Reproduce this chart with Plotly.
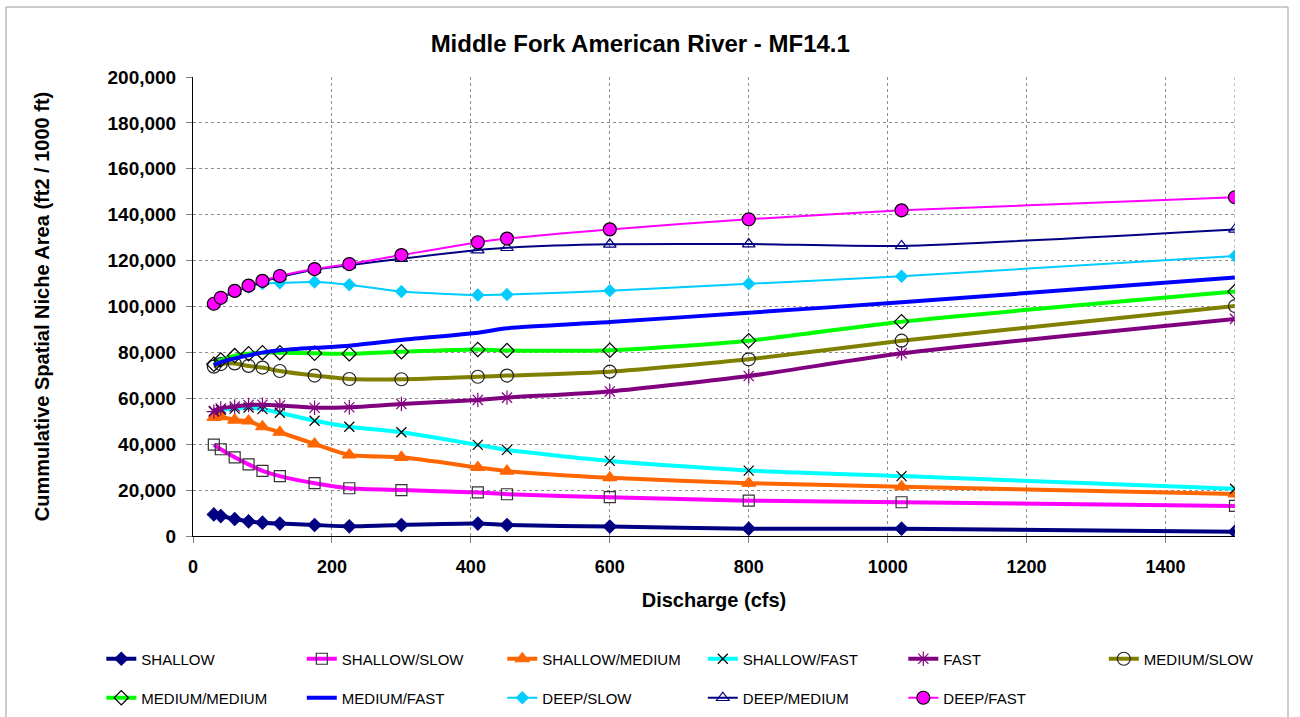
import plotly.graph_objects as go

# discharge (cfs)
discharge = [30, 40, 60, 80, 100, 125, 175, 225, 300, 410, 452, 600, 800, 1020, 1500]

# cumulative spatial niche area (ft2 / 1000 ft)
shallow = [9400, 8700, 7400, 6400, 5800, 5400, 4800, 4200, 4800, 5400, 4800, 4100, 3200, 3200, 1900]
shallow_slow = [39800, 37800, 34300, 31200, 28400, 26100, 23000, 20800, 20000, 19000, 18200, 16900, 15400, 14700, 13100]
shallow_medium = [51700, 52000, 50500, 50100, 47600, 45200, 40100, 35300, 34300, 29900, 28300, 25400, 23000, 21500, 18300]
shallow_fast = [54500, 55000, 55500, 56000, 55300, 53700, 50200, 47600, 45200, 39700, 37500, 32700, 28500, 26100, 20600]
fast = [54200, 55600, 56400, 57100, 57200, 56900, 55900, 56100, 57500, 59300, 60300, 63000, 69700, 79600, 94600]
medium_slow = [73800, 74900, 75200, 74100, 73400, 71900, 69900, 68400, 68300, 69400, 69900, 71600, 77000, 85100, 100200]
medium_medium = [74800, 76700, 78600, 79400, 79900, 79900, 79600, 79400, 80300, 81300, 80800, 80900, 85100, 93400, 106500]
medium_fast = [74500, 75800, 77400, 78700, 79900, 80900, 82000, 82900, 85400, 88600, 90500, 93200, 97300, 101800, 112600]
deep_slow = [101000, 103500, 106500, 108500, 110000, 110300, 110700, 109500, 106500, 105000, 105200, 106900, 109900, 113200, 122000]
deep_medium = [101000, 103500, 106500, 108800, 110800, 112800, 116000, 118000, 120800, 124600, 125600, 127100, 127200, 126400, 133600]
deep_fast = [101200, 103800, 106800, 109100, 111200, 113300, 116300, 118500, 122400, 128000, 129600, 133600, 138000, 141900, 147600]

FONT = "Liberation Sans, Arial, sans-serif"

# name, values, line colour, line width, marker symbol, marker size, marker colour, marker edge
series = [
    ("SHALLOW", shallow, "#000080", 4, "diamond", 10, "#000080", "#000080"),
    ("SHALLOW/SLOW", shallow_slow, "#FF00FF", 4, "square-open", 11, "#333333", None),
    ("SHALLOW/MEDIUM", shallow_medium, "#FF6600", 4, "triangle-up", 12, "#FF6600", "#FF6600"),
    ("SHALLOW/FAST", shallow_fast, "#00FFFF", 4, "x-thin", 10, "#000000", "#000000"),
    ("FAST", fast, "#800080", 4, "asterisk", 12, "#800080", "#800080"),
    ("MEDIUM/SLOW", medium_slow, "#808000", 4, "circle-open", 13, "#222222", None),
    ("MEDIUM/MEDIUM", medium_medium, "#00FF00", 4, "diamond-open", 11, "#000000", None),
    ("MEDIUM/FAST", medium_fast, "#0000FF", 4, None, 0, None, None),
    ("DEEP/SLOW", deep_slow, "#00CCFF", 2, "diamond", 9, "#00CCFF", "#00CCFF"),
    ("DEEP/MEDIUM", deep_medium, "#000080", 2, "triangle-up-open", 11, "#000080", None),
    ("DEEP/FAST", deep_fast, "#FF00FF", 2, "circle", 13, "#FF00FF", "#000000"),
]

fig = go.Figure()
for i, (name, vals, col, w, sym, size, mcol, medge) in enumerate(series):
    if sym is None:
        mode = "lines"
        marker = None
    else:
        mode = "lines+markers"
        marker = dict(symbol=sym, size=size, color=mcol,
                      line=dict(color=medge if medge else mcol, width=1.2))
    fig.add_trace(go.Scatter(
        x=discharge, y=vals, name=name, mode=mode,
        line=dict(color=col, width=w, shape="spline", smoothing=0.6),
        marker=marker,
        legend="legend" if i < 6 else "legend2",
    ))

grid = dict(showgrid=True, gridcolor="#8c8c8c", griddash="dot", gridwidth=1)

fig.update_layout(
    width=1300, height=717,
    paper_bgcolor="white", plot_bgcolor="white",
    margin=dict(l=193, r=65, t=77, b=181, autoexpand=False),
    font=dict(family=FONT, color="black"),
    title=dict(text="<b>Middle Fork American River - MF14.1</b>",
               font=dict(size=24, family=FONT, color="black"),
               x=0.4925, xref="container", xanchor="center",
               y=1 - 44 / 717, yref="container", yanchor="middle"),
    xaxis=dict(range=[0, 1500], dtick=200, tick0=0, **grid,
               showline=True, linecolor="black", linewidth=1, zeroline=False,
               ticks="outside", ticklen=6, tickcolor="#808080",
               ticklabelstandoff=8,
               tickfont=dict(size=18, family=FONT, color="black", weight="bold"),
               title=dict(text="<b>Discharge (cfs)</b>", standoff=17,
                          font=dict(size=20, family=FONT, color="black"))),
    yaxis=dict(range=[0, 200000], dtick=20000, tickformat=",", **grid,
               showline=True, linecolor="black", linewidth=1, zeroline=False,
               ticks="outside", ticklen=6, tickcolor="#808080",
               ticklabelstandoff=6,
               tickfont=dict(size=19, family=FONT, color="black", weight="bold"),
               title=dict(text="<b>Cummulative Spatial Niche Area (ft2 / 1000 ft)</b>",
                          standoff=52,
                          font=dict(size=20, family=FONT, color="black"))),
    legend=dict(orientation="h", x=-0.088, xanchor="left",
                y=(536 - 659) / 459, yanchor="middle",
                entrywidth=155.5, entrywidthmode="pixels",
                font=dict(size=15, family=FONT, color="black"),
                bgcolor="rgba(0,0,0,0)"),
    legend2=dict(orientation="h", x=-0.088, xanchor="left",
                 y=(536 - 698) / 459, yanchor="middle",
                 entrywidth=155.5, entrywidthmode="pixels",
                 font=dict(size=15, family=FONT, color="black"),
                 bgcolor="rgba(0,0,0,0)"),
    showlegend=True,
)

# right edge of plot area and outer chart frame
fig.add_shape(type="line", xref="x", yref="paper", x0=1500, x1=1500, y0=0, y1=1,
              line=dict(color="#8c8c8c", width=1, dash="dot"))
fig.add_shape(type="rect", xref="paper", yref="paper",
              x0=(6 - 193) / 1042, x1=(1288 - 193) / 1042,
              y0=(536 - 725) / 459, y1=(536 - 7) / 459,
              line=dict(color="#999999", width=1), layer="below")

fig.write_html("out.html", config={"displayModeBar": False},
               post_script="document.body.style.margin='0';")
